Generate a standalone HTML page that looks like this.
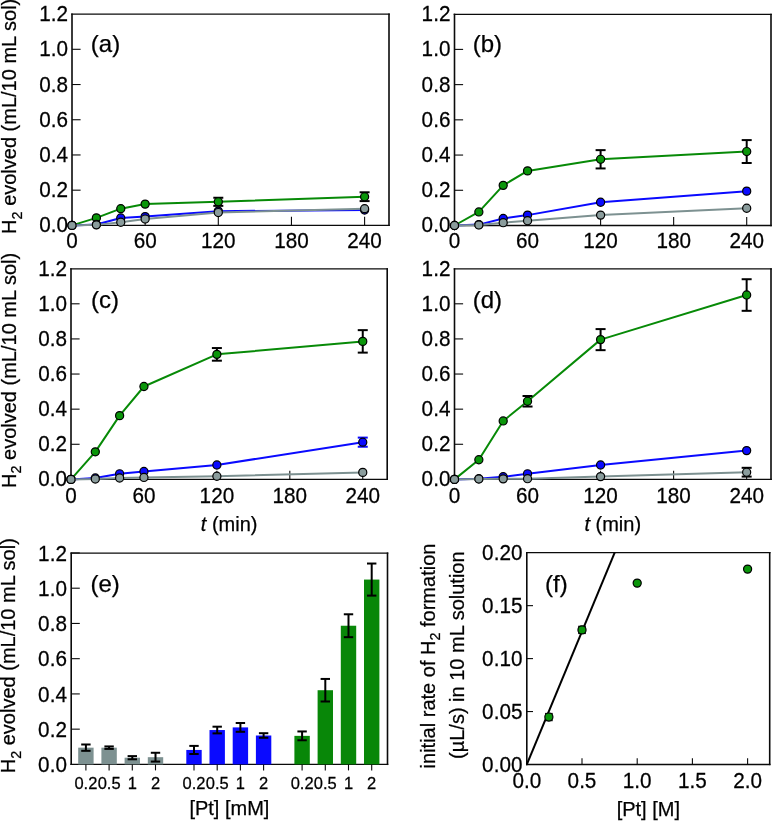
<!DOCTYPE html><html><head><meta charset="utf-8"><style>html,body{margin:0;padding:0;background:#fff;}svg{display:block;will-change:transform;}text{font-family:"Liberation Sans", sans-serif;fill:#000;stroke:#000;stroke-width:0.25px;}</style></head><body>
<svg width="772" height="821" viewBox="0 0 772 821">
<rect width="772" height="821" fill="#fff"/>
<line x1="72" y1="13.45" x2="72" y2="226.05" stroke="#0a0a0a" stroke-width="1.6" />
<line x1="389" y1="13.45" x2="389" y2="226.05" stroke="#0a0a0a" stroke-width="1.6" />
<line x1="71.2" y1="14.1" x2="389.8" y2="14.1" stroke="#0a0a0a" stroke-width="1.3" />
<line x1="71.2" y1="225.4" x2="389.8" y2="225.4" stroke="#0a0a0a" stroke-width="1.3" />
<line x1="72" y1="190.18" x2="80.6" y2="190.18" stroke="#0a0a0a" stroke-width="1.1" />
<line x1="72" y1="154.96" x2="80.6" y2="154.96" stroke="#0a0a0a" stroke-width="1.1" />
<line x1="72" y1="119.74" x2="80.6" y2="119.74" stroke="#0a0a0a" stroke-width="1.1" />
<line x1="72" y1="84.52" x2="80.6" y2="84.52" stroke="#0a0a0a" stroke-width="1.1" />
<line x1="72" y1="49.3" x2="80.6" y2="49.3" stroke="#0a0a0a" stroke-width="1.1" />
<text transform="translate(68.1,232) scale(1,1.04)" font-size="20.7" text-anchor="end" >0.0</text>
<text transform="translate(68.1,197) scale(1,1.04)" font-size="20.7" text-anchor="end" >0.2</text>
<text transform="translate(68.1,162) scale(1,1.04)" font-size="20.7" text-anchor="end" >0.4</text>
<text transform="translate(68.1,127) scale(1,1.04)" font-size="20.7" text-anchor="end" >0.6</text>
<text transform="translate(68.1,92) scale(1,1.04)" font-size="20.7" text-anchor="end" >0.8</text>
<text transform="translate(68.1,56) scale(1,1.04)" font-size="20.7" text-anchor="end" >1.0</text>
<text transform="translate(68.1,21) scale(1,1.04)" font-size="20.7" text-anchor="end" >1.2</text>
<line x1="145.15" y1="225.4" x2="145.15" y2="216.8" stroke="#0a0a0a" stroke-width="1.1" />
<line x1="218.3" y1="225.4" x2="218.3" y2="216.8" stroke="#0a0a0a" stroke-width="1.1" />
<line x1="291.45" y1="225.4" x2="291.45" y2="216.8" stroke="#0a0a0a" stroke-width="1.1" />
<line x1="364.6" y1="225.4" x2="364.6" y2="216.8" stroke="#0a0a0a" stroke-width="1.1" />
<text transform="translate(72,248) scale(1,1.04)" font-size="20.7" text-anchor="middle" >0</text>
<text transform="translate(145.15,248) scale(1,1.04)" font-size="20.7" text-anchor="middle" >60</text>
<text transform="translate(218.3,248) scale(1,1.04)" font-size="20.7" text-anchor="middle" >120</text>
<text transform="translate(291.45,248) scale(1,1.04)" font-size="20.7" text-anchor="middle" >180</text>
<text transform="translate(364.6,248) scale(1,1.04)" font-size="20.7" text-anchor="middle" >240</text>
<text transform="translate(90.8,52.1) scale(1,1)" font-size="24.0" text-anchor="start" >(a)</text>
<polyline points="72,225.4 96.38,217.9 120.77,208.67 145.15,204.09 218.3,201.8 364.6,196.7" fill="none" stroke="#078a07" stroke-width="2" stroke-linejoin="round"/>
<line x1="218.3" y1="197.75" x2="218.3" y2="205.85" stroke="#000" stroke-width="2" />
<line x1="213.3" y1="197.75" x2="223.3" y2="197.75" stroke="#000" stroke-width="2" />
<line x1="213.3" y1="205.85" x2="223.3" y2="205.85" stroke="#000" stroke-width="2" />
<line x1="364.6" y1="192.29" x2="364.6" y2="201.1" stroke="#000" stroke-width="2" />
<line x1="359.6" y1="192.29" x2="369.6" y2="192.29" stroke="#000" stroke-width="2" />
<line x1="359.6" y1="201.1" x2="369.6" y2="201.1" stroke="#000" stroke-width="2" />
<circle cx="72" cy="225.4" r="4.05" fill="#0a960a" stroke="#000" stroke-width="1.2"/>
<circle cx="96.38" cy="217.9" r="4.05" fill="#0a960a" stroke="#000" stroke-width="1.2"/>
<circle cx="120.77" cy="208.67" r="4.05" fill="#0a960a" stroke="#000" stroke-width="1.2"/>
<circle cx="145.15" cy="204.09" r="4.05" fill="#0a960a" stroke="#000" stroke-width="1.2"/>
<circle cx="218.3" cy="201.8" r="4.05" fill="#0a960a" stroke="#000" stroke-width="1.2"/>
<circle cx="364.6" cy="196.7" r="4.05" fill="#0a960a" stroke="#000" stroke-width="1.2"/>
<polyline points="72,225.4 96.38,224.52 120.77,218 145.15,216.59 218.3,211.14 364.6,210.08" fill="none" stroke="#0a0aff" stroke-width="2" stroke-linejoin="round"/>
<circle cx="72" cy="225.4" r="4.05" fill="#0a0aff" stroke="#000" stroke-width="1.2"/>
<circle cx="96.38" cy="224.52" r="4.05" fill="#0a0aff" stroke="#000" stroke-width="1.2"/>
<circle cx="120.77" cy="218" r="4.05" fill="#0a0aff" stroke="#000" stroke-width="1.2"/>
<circle cx="145.15" cy="216.59" r="4.05" fill="#0a0aff" stroke="#000" stroke-width="1.2"/>
<circle cx="218.3" cy="211.14" r="4.05" fill="#0a0aff" stroke="#000" stroke-width="1.2"/>
<circle cx="364.6" cy="210.08" r="4.05" fill="#0a0aff" stroke="#000" stroke-width="1.2"/>
<polyline points="72,225.4 96.38,224.87 120.77,222.23 145.15,219.06 218.3,212.54 364.6,208.67" fill="none" stroke="#7d9191" stroke-width="2" stroke-linejoin="round"/>
<circle cx="72" cy="225.4" r="4.05" fill="#8a9c9c" stroke="#000" stroke-width="1.2"/>
<circle cx="96.38" cy="224.87" r="4.05" fill="#8a9c9c" stroke="#000" stroke-width="1.2"/>
<circle cx="120.77" cy="222.23" r="4.05" fill="#8a9c9c" stroke="#000" stroke-width="1.2"/>
<circle cx="145.15" cy="219.06" r="4.05" fill="#8a9c9c" stroke="#000" stroke-width="1.2"/>
<circle cx="218.3" cy="212.54" r="4.05" fill="#8a9c9c" stroke="#000" stroke-width="1.2"/>
<circle cx="364.6" cy="208.67" r="4.05" fill="#8a9c9c" stroke="#000" stroke-width="1.2"/>
<line x1="454.5" y1="13.65" x2="454.5" y2="226.15" stroke="#0a0a0a" stroke-width="1.6" />
<line x1="771" y1="13.65" x2="771" y2="226.15" stroke="#0a0a0a" stroke-width="1.6" />
<line x1="453.7" y1="14.3" x2="771.8" y2="14.3" stroke="#0a0a0a" stroke-width="1.3" />
<line x1="453.7" y1="225.5" x2="771.8" y2="225.5" stroke="#0a0a0a" stroke-width="1.3" />
<line x1="454.5" y1="190.28" x2="463.1" y2="190.28" stroke="#0a0a0a" stroke-width="1.1" />
<line x1="454.5" y1="155.06" x2="463.1" y2="155.06" stroke="#0a0a0a" stroke-width="1.1" />
<line x1="454.5" y1="119.84" x2="463.1" y2="119.84" stroke="#0a0a0a" stroke-width="1.1" />
<line x1="454.5" y1="84.62" x2="463.1" y2="84.62" stroke="#0a0a0a" stroke-width="1.1" />
<line x1="454.5" y1="49.4" x2="463.1" y2="49.4" stroke="#0a0a0a" stroke-width="1.1" />
<text transform="translate(450.4,232) scale(1,1.04)" font-size="20.7" text-anchor="end" >0.0</text>
<text transform="translate(450.4,197) scale(1,1.04)" font-size="20.7" text-anchor="end" >0.2</text>
<text transform="translate(450.4,162) scale(1,1.04)" font-size="20.7" text-anchor="end" >0.4</text>
<text transform="translate(450.4,127) scale(1,1.04)" font-size="20.7" text-anchor="end" >0.6</text>
<text transform="translate(450.4,92) scale(1,1.04)" font-size="20.7" text-anchor="end" >0.8</text>
<text transform="translate(450.4,56) scale(1,1.04)" font-size="20.7" text-anchor="end" >1.0</text>
<text transform="translate(450.4,21) scale(1,1.04)" font-size="20.7" text-anchor="end" >1.2</text>
<line x1="527.55" y1="225.5" x2="527.55" y2="216.9" stroke="#0a0a0a" stroke-width="1.1" />
<line x1="600.6" y1="225.5" x2="600.6" y2="216.9" stroke="#0a0a0a" stroke-width="1.1" />
<line x1="673.65" y1="225.5" x2="673.65" y2="216.9" stroke="#0a0a0a" stroke-width="1.1" />
<line x1="746.7" y1="225.5" x2="746.7" y2="216.9" stroke="#0a0a0a" stroke-width="1.1" />
<text transform="translate(454.5,248) scale(1,1.04)" font-size="20.7" text-anchor="middle" >0</text>
<text transform="translate(527.55,248) scale(1,1.04)" font-size="20.7" text-anchor="middle" >60</text>
<text transform="translate(600.6,248) scale(1,1.04)" font-size="20.7" text-anchor="middle" >120</text>
<text transform="translate(673.65,248) scale(1,1.04)" font-size="20.7" text-anchor="middle" >180</text>
<text transform="translate(746.7,248) scale(1,1.04)" font-size="20.7" text-anchor="middle" >240</text>
<text transform="translate(472.7,52.3) scale(1,1)" font-size="24.0" text-anchor="start" >(b)</text>
<polyline points="454.5,225.5 478.85,211.94 503.2,185.35 527.55,170.91 600.6,159.29 746.7,151.54" fill="none" stroke="#078a07" stroke-width="2" stroke-linejoin="round"/>
<line x1="600.6" y1="150.13" x2="600.6" y2="168.44" stroke="#000" stroke-width="2" />
<line x1="595.6" y1="150.13" x2="605.6" y2="150.13" stroke="#000" stroke-width="2" />
<line x1="595.6" y1="168.44" x2="605.6" y2="168.44" stroke="#000" stroke-width="2" />
<line x1="746.7" y1="140.09" x2="746.7" y2="162.98" stroke="#000" stroke-width="2" />
<line x1="741.7" y1="140.09" x2="751.7" y2="140.09" stroke="#000" stroke-width="2" />
<line x1="741.7" y1="162.98" x2="751.7" y2="162.98" stroke="#000" stroke-width="2" />
<circle cx="454.5" cy="225.5" r="4.05" fill="#0a960a" stroke="#000" stroke-width="1.2"/>
<circle cx="478.85" cy="211.94" r="4.05" fill="#0a960a" stroke="#000" stroke-width="1.2"/>
<circle cx="503.2" cy="185.35" r="4.05" fill="#0a960a" stroke="#000" stroke-width="1.2"/>
<circle cx="527.55" cy="170.91" r="4.05" fill="#0a960a" stroke="#000" stroke-width="1.2"/>
<circle cx="600.6" cy="159.29" r="4.05" fill="#0a960a" stroke="#000" stroke-width="1.2"/>
<circle cx="746.7" cy="151.54" r="4.05" fill="#0a960a" stroke="#000" stroke-width="1.2"/>
<polyline points="454.5,225.5 478.85,224.62 503.2,218.46 527.55,215.11 600.6,202.25 746.7,191.16" fill="none" stroke="#0a0aff" stroke-width="2" stroke-linejoin="round"/>
<circle cx="454.5" cy="225.5" r="4.05" fill="#0a0aff" stroke="#000" stroke-width="1.2"/>
<circle cx="478.85" cy="224.62" r="4.05" fill="#0a0aff" stroke="#000" stroke-width="1.2"/>
<circle cx="503.2" cy="218.46" r="4.05" fill="#0a0aff" stroke="#000" stroke-width="1.2"/>
<circle cx="527.55" cy="215.11" r="4.05" fill="#0a0aff" stroke="#000" stroke-width="1.2"/>
<circle cx="600.6" cy="202.25" r="4.05" fill="#0a0aff" stroke="#000" stroke-width="1.2"/>
<circle cx="746.7" cy="191.16" r="4.05" fill="#0a0aff" stroke="#000" stroke-width="1.2"/>
<polyline points="454.5,225.5 478.85,224.97 503.2,222.68 527.55,220.75 600.6,215.11 746.7,208.24" fill="none" stroke="#7d9191" stroke-width="2" stroke-linejoin="round"/>
<circle cx="454.5" cy="225.5" r="4.05" fill="#8a9c9c" stroke="#000" stroke-width="1.2"/>
<circle cx="478.85" cy="224.97" r="4.05" fill="#8a9c9c" stroke="#000" stroke-width="1.2"/>
<circle cx="503.2" cy="222.68" r="4.05" fill="#8a9c9c" stroke="#000" stroke-width="1.2"/>
<circle cx="527.55" cy="220.75" r="4.05" fill="#8a9c9c" stroke="#000" stroke-width="1.2"/>
<circle cx="600.6" cy="215.11" r="4.05" fill="#8a9c9c" stroke="#000" stroke-width="1.2"/>
<circle cx="746.7" cy="208.24" r="4.05" fill="#8a9c9c" stroke="#000" stroke-width="1.2"/>
<line x1="71" y1="268.25" x2="71" y2="480.05" stroke="#0a0a0a" stroke-width="1.6" />
<line x1="387.2" y1="268.25" x2="387.2" y2="480.05" stroke="#0a0a0a" stroke-width="1.6" />
<line x1="70.2" y1="268.9" x2="388" y2="268.9" stroke="#0a0a0a" stroke-width="1.3" />
<line x1="70.2" y1="479.4" x2="388" y2="479.4" stroke="#0a0a0a" stroke-width="1.3" />
<line x1="71" y1="444.28" x2="79.6" y2="444.28" stroke="#0a0a0a" stroke-width="1.1" />
<line x1="71" y1="409.16" x2="79.6" y2="409.16" stroke="#0a0a0a" stroke-width="1.1" />
<line x1="71" y1="374.04" x2="79.6" y2="374.04" stroke="#0a0a0a" stroke-width="1.1" />
<line x1="71" y1="338.92" x2="79.6" y2="338.92" stroke="#0a0a0a" stroke-width="1.1" />
<line x1="71" y1="303.8" x2="79.6" y2="303.8" stroke="#0a0a0a" stroke-width="1.1" />
<text transform="translate(67,486) scale(1,1.04)" font-size="20.7" text-anchor="end" >0.0</text>
<text transform="translate(67,451) scale(1,1.04)" font-size="20.7" text-anchor="end" >0.2</text>
<text transform="translate(67,416) scale(1,1.04)" font-size="20.7" text-anchor="end" >0.4</text>
<text transform="translate(67,381) scale(1,1.04)" font-size="20.7" text-anchor="end" >0.6</text>
<text transform="translate(67,346) scale(1,1.04)" font-size="20.7" text-anchor="end" >0.8</text>
<text transform="translate(67,311) scale(1,1.04)" font-size="20.7" text-anchor="end" >1.0</text>
<text transform="translate(67,276) scale(1,1.04)" font-size="20.7" text-anchor="end" >1.2</text>
<line x1="143.94" y1="479.4" x2="143.94" y2="470.8" stroke="#0a0a0a" stroke-width="1.1" />
<line x1="216.88" y1="479.4" x2="216.88" y2="470.8" stroke="#0a0a0a" stroke-width="1.1" />
<line x1="289.81" y1="479.4" x2="289.81" y2="470.8" stroke="#0a0a0a" stroke-width="1.1" />
<line x1="362.75" y1="479.4" x2="362.75" y2="470.8" stroke="#0a0a0a" stroke-width="1.1" />
<text transform="translate(71,503) scale(1,1.04)" font-size="20.7" text-anchor="middle" >0</text>
<text transform="translate(143.94,503) scale(1,1.04)" font-size="20.7" text-anchor="middle" >60</text>
<text transform="translate(216.88,503) scale(1,1.04)" font-size="20.7" text-anchor="middle" >120</text>
<text transform="translate(289.81,503) scale(1,1.04)" font-size="20.7" text-anchor="middle" >180</text>
<text transform="translate(362.75,503) scale(1,1.04)" font-size="20.7" text-anchor="middle" >240</text>
<text transform="translate(90.9,307.9) scale(1,1)" font-size="24.0" text-anchor="start" >(c)</text>
<polyline points="71,479.4 95.31,451.83 119.62,415.66 143.94,386.51 216.88,354.37 362.75,341.38" fill="none" stroke="#078a07" stroke-width="2" stroke-linejoin="round"/>
<line x1="216.88" y1="348.05" x2="216.88" y2="360.69" stroke="#000" stroke-width="2" />
<line x1="211.88" y1="348.05" x2="221.88" y2="348.05" stroke="#000" stroke-width="2" />
<line x1="211.88" y1="360.69" x2="221.88" y2="360.69" stroke="#000" stroke-width="2" />
<line x1="362.75" y1="330.14" x2="362.75" y2="352.62" stroke="#000" stroke-width="2" />
<line x1="357.75" y1="330.14" x2="367.75" y2="330.14" stroke="#000" stroke-width="2" />
<line x1="357.75" y1="352.62" x2="367.75" y2="352.62" stroke="#000" stroke-width="2" />
<circle cx="71" cy="479.4" r="4.05" fill="#0a960a" stroke="#000" stroke-width="1.2"/>
<circle cx="95.31" cy="451.83" r="4.05" fill="#0a960a" stroke="#000" stroke-width="1.2"/>
<circle cx="119.62" cy="415.66" r="4.05" fill="#0a960a" stroke="#000" stroke-width="1.2"/>
<circle cx="143.94" cy="386.51" r="4.05" fill="#0a960a" stroke="#000" stroke-width="1.2"/>
<circle cx="216.88" cy="354.37" r="4.05" fill="#0a960a" stroke="#000" stroke-width="1.2"/>
<circle cx="362.75" cy="341.38" r="4.05" fill="#0a960a" stroke="#000" stroke-width="1.2"/>
<polyline points="71,479.4 95.31,478 119.62,473.78 143.94,471.5 216.88,465 362.75,442.17" fill="none" stroke="#0a0aff" stroke-width="2" stroke-linejoin="round"/>
<line x1="362.75" y1="437.61" x2="362.75" y2="446.74" stroke="#0a0aff" stroke-width="2" />
<line x1="357.75" y1="437.61" x2="367.75" y2="437.61" stroke="#0a0aff" stroke-width="2" />
<line x1="357.75" y1="446.74" x2="367.75" y2="446.74" stroke="#0a0aff" stroke-width="2" />
<circle cx="71" cy="479.4" r="4.05" fill="#0a0aff" stroke="#000" stroke-width="1.2"/>
<circle cx="95.31" cy="478" r="4.05" fill="#0a0aff" stroke="#000" stroke-width="1.2"/>
<circle cx="119.62" cy="473.78" r="4.05" fill="#0a0aff" stroke="#000" stroke-width="1.2"/>
<circle cx="143.94" cy="471.5" r="4.05" fill="#0a0aff" stroke="#000" stroke-width="1.2"/>
<circle cx="216.88" cy="465" r="4.05" fill="#0a0aff" stroke="#000" stroke-width="1.2"/>
<circle cx="362.75" cy="442.17" r="4.05" fill="#0a0aff" stroke="#000" stroke-width="1.2"/>
<polyline points="71,479.4 95.31,479.05 119.62,478 143.94,477.47 216.88,476.24 362.75,472.38" fill="none" stroke="#7d9191" stroke-width="2" stroke-linejoin="round"/>
<circle cx="71" cy="479.4" r="4.05" fill="#8a9c9c" stroke="#000" stroke-width="1.2"/>
<circle cx="95.31" cy="479.05" r="4.05" fill="#8a9c9c" stroke="#000" stroke-width="1.2"/>
<circle cx="119.62" cy="478" r="4.05" fill="#8a9c9c" stroke="#000" stroke-width="1.2"/>
<circle cx="143.94" cy="477.47" r="4.05" fill="#8a9c9c" stroke="#000" stroke-width="1.2"/>
<circle cx="216.88" cy="476.24" r="4.05" fill="#8a9c9c" stroke="#000" stroke-width="1.2"/>
<circle cx="362.75" cy="472.38" r="4.05" fill="#8a9c9c" stroke="#000" stroke-width="1.2"/>
<text transform="translate(229.1,530.8)" font-size="20.0" text-anchor="middle"><tspan font-style="italic">t</tspan> (min)</text>
<line x1="454.5" y1="268.25" x2="454.5" y2="480.05" stroke="#0a0a0a" stroke-width="1.6" />
<line x1="771" y1="268.25" x2="771" y2="480.05" stroke="#0a0a0a" stroke-width="1.6" />
<line x1="453.7" y1="268.9" x2="771.8" y2="268.9" stroke="#0a0a0a" stroke-width="1.3" />
<line x1="453.7" y1="479.4" x2="771.8" y2="479.4" stroke="#0a0a0a" stroke-width="1.3" />
<line x1="454.5" y1="444.28" x2="463.1" y2="444.28" stroke="#0a0a0a" stroke-width="1.1" />
<line x1="454.5" y1="409.16" x2="463.1" y2="409.16" stroke="#0a0a0a" stroke-width="1.1" />
<line x1="454.5" y1="374.04" x2="463.1" y2="374.04" stroke="#0a0a0a" stroke-width="1.1" />
<line x1="454.5" y1="338.92" x2="463.1" y2="338.92" stroke="#0a0a0a" stroke-width="1.1" />
<line x1="454.5" y1="303.8" x2="463.1" y2="303.8" stroke="#0a0a0a" stroke-width="1.1" />
<text transform="translate(450.4,486) scale(1,1.04)" font-size="20.7" text-anchor="end" >0.0</text>
<text transform="translate(450.4,451) scale(1,1.04)" font-size="20.7" text-anchor="end" >0.2</text>
<text transform="translate(450.4,416) scale(1,1.04)" font-size="20.7" text-anchor="end" >0.4</text>
<text transform="translate(450.4,381) scale(1,1.04)" font-size="20.7" text-anchor="end" >0.6</text>
<text transform="translate(450.4,346) scale(1,1.04)" font-size="20.7" text-anchor="end" >0.8</text>
<text transform="translate(450.4,311) scale(1,1.04)" font-size="20.7" text-anchor="end" >1.0</text>
<text transform="translate(450.4,276) scale(1,1.04)" font-size="20.7" text-anchor="end" >1.2</text>
<line x1="527.54" y1="479.4" x2="527.54" y2="470.8" stroke="#0a0a0a" stroke-width="1.1" />
<line x1="600.58" y1="479.4" x2="600.58" y2="470.8" stroke="#0a0a0a" stroke-width="1.1" />
<line x1="673.61" y1="479.4" x2="673.61" y2="470.8" stroke="#0a0a0a" stroke-width="1.1" />
<line x1="746.65" y1="479.4" x2="746.65" y2="470.8" stroke="#0a0a0a" stroke-width="1.1" />
<text transform="translate(454.5,503) scale(1,1.04)" font-size="20.7" text-anchor="middle" >0</text>
<text transform="translate(527.54,503) scale(1,1.04)" font-size="20.7" text-anchor="middle" >60</text>
<text transform="translate(600.58,503) scale(1,1.04)" font-size="20.7" text-anchor="middle" >120</text>
<text transform="translate(673.61,503) scale(1,1.04)" font-size="20.7" text-anchor="middle" >180</text>
<text transform="translate(746.65,503) scale(1,1.04)" font-size="20.7" text-anchor="middle" >240</text>
<text transform="translate(472.7,307.9) scale(1,1)" font-size="24.0" text-anchor="start" >(d)</text>
<polyline points="454.5,479.4 478.85,459.73 503.19,420.93 527.54,401.26 600.58,339.62 746.65,295.02" fill="none" stroke="#078a07" stroke-width="2" stroke-linejoin="round"/>
<line x1="527.54" y1="395.99" x2="527.54" y2="406.53" stroke="#000" stroke-width="2" />
<line x1="522.54" y1="395.99" x2="532.54" y2="395.99" stroke="#000" stroke-width="2" />
<line x1="522.54" y1="406.53" x2="532.54" y2="406.53" stroke="#000" stroke-width="2" />
<line x1="600.58" y1="329.09" x2="600.58" y2="350.16" stroke="#000" stroke-width="2" />
<line x1="595.58" y1="329.09" x2="605.58" y2="329.09" stroke="#000" stroke-width="2" />
<line x1="595.58" y1="350.16" x2="605.58" y2="350.16" stroke="#000" stroke-width="2" />
<line x1="746.65" y1="279.22" x2="746.65" y2="310.82" stroke="#000" stroke-width="2" />
<line x1="741.65" y1="279.22" x2="751.65" y2="279.22" stroke="#000" stroke-width="2" />
<line x1="741.65" y1="310.82" x2="751.65" y2="310.82" stroke="#000" stroke-width="2" />
<circle cx="454.5" cy="479.4" r="4.05" fill="#0a960a" stroke="#000" stroke-width="1.2"/>
<circle cx="478.85" cy="459.73" r="4.05" fill="#0a960a" stroke="#000" stroke-width="1.2"/>
<circle cx="503.19" cy="420.93" r="4.05" fill="#0a960a" stroke="#000" stroke-width="1.2"/>
<circle cx="527.54" cy="401.26" r="4.05" fill="#0a960a" stroke="#000" stroke-width="1.2"/>
<circle cx="600.58" cy="339.62" r="4.05" fill="#0a960a" stroke="#000" stroke-width="1.2"/>
<circle cx="746.65" cy="295.02" r="4.05" fill="#0a960a" stroke="#000" stroke-width="1.2"/>
<polyline points="454.5,479.4 478.85,478.7 503.19,476.77 527.54,473.78 600.58,465 746.65,450.6" fill="none" stroke="#0a0aff" stroke-width="2" stroke-linejoin="round"/>
<circle cx="454.5" cy="479.4" r="4.05" fill="#0a0aff" stroke="#000" stroke-width="1.2"/>
<circle cx="478.85" cy="478.7" r="4.05" fill="#0a0aff" stroke="#000" stroke-width="1.2"/>
<circle cx="503.19" cy="476.77" r="4.05" fill="#0a0aff" stroke="#000" stroke-width="1.2"/>
<circle cx="527.54" cy="473.78" r="4.05" fill="#0a0aff" stroke="#000" stroke-width="1.2"/>
<circle cx="600.58" cy="465" r="4.05" fill="#0a0aff" stroke="#000" stroke-width="1.2"/>
<circle cx="746.65" cy="450.6" r="4.05" fill="#0a0aff" stroke="#000" stroke-width="1.2"/>
<polyline points="454.5,479.4 478.85,479.05 503.19,478.87 527.54,478.7 600.58,476.59 746.65,472.2" fill="none" stroke="#7d9191" stroke-width="2" stroke-linejoin="round"/>
<line x1="746.65" y1="467.81" x2="746.65" y2="476.59" stroke="#000" stroke-width="2" />
<line x1="741.65" y1="467.81" x2="751.65" y2="467.81" stroke="#000" stroke-width="2" />
<line x1="741.65" y1="476.59" x2="751.65" y2="476.59" stroke="#000" stroke-width="2" />
<circle cx="454.5" cy="479.4" r="4.05" fill="#8a9c9c" stroke="#000" stroke-width="1.2"/>
<circle cx="478.85" cy="479.05" r="4.05" fill="#8a9c9c" stroke="#000" stroke-width="1.2"/>
<circle cx="503.19" cy="478.87" r="4.05" fill="#8a9c9c" stroke="#000" stroke-width="1.2"/>
<circle cx="527.54" cy="478.7" r="4.05" fill="#8a9c9c" stroke="#000" stroke-width="1.2"/>
<circle cx="600.58" cy="476.59" r="4.05" fill="#8a9c9c" stroke="#000" stroke-width="1.2"/>
<circle cx="746.65" cy="472.2" r="4.05" fill="#8a9c9c" stroke="#000" stroke-width="1.2"/>
<text transform="translate(612.75,530.8)" font-size="20.0" text-anchor="middle"><tspan font-style="italic">t</tspan> (min)</text>
<text transform="translate(16,233.9) rotate(-90)" font-size="20.0">H<tspan font-size="14.4" dy="5.6">2</tspan><tspan dy="-5.6"> evolved (mL/10 mL sol)</tspan></text>
<text transform="translate(15.7,488) rotate(-90)" font-size="20.0">H<tspan font-size="14.4" dy="5.6">2</tspan><tspan dy="-5.6"> evolved (mL/10 mL sol)</tspan></text>
<text transform="translate(15,773.3) rotate(-90)" font-size="20.0">H<tspan font-size="14.4" dy="5.6">2</tspan><tspan dy="-5.6"> evolved (mL/10 mL sol)</tspan></text>
<line x1="71.2" y1="552.45" x2="71.2" y2="765.05" stroke="#0a0a0a" stroke-width="1.6" />
<line x1="387.5" y1="552.45" x2="387.5" y2="765.05" stroke="#0a0a0a" stroke-width="1.6" />
<line x1="70.4" y1="553.1" x2="388.3" y2="553.1" stroke="#0a0a0a" stroke-width="1.3" />
<line x1="70.4" y1="764.4" x2="388.3" y2="764.4" stroke="#0a0a0a" stroke-width="1.3" />
<line x1="71.2" y1="729.16" x2="79.8" y2="729.16" stroke="#0a0a0a" stroke-width="1.1" />
<line x1="71.2" y1="693.92" x2="79.8" y2="693.92" stroke="#0a0a0a" stroke-width="1.1" />
<line x1="71.2" y1="658.68" x2="79.8" y2="658.68" stroke="#0a0a0a" stroke-width="1.1" />
<line x1="71.2" y1="623.44" x2="79.8" y2="623.44" stroke="#0a0a0a" stroke-width="1.1" />
<line x1="71.2" y1="588.2" x2="79.8" y2="588.2" stroke="#0a0a0a" stroke-width="1.1" />
<line x1="71.2" y1="552.96" x2="79.8" y2="552.96" stroke="#0a0a0a" stroke-width="1.1" />
<text transform="translate(66.9,772) scale(1,1.04)" font-size="20.7" text-anchor="end" >0.0</text>
<text transform="translate(66.9,737) scale(1,1.04)" font-size="20.7" text-anchor="end" >0.2</text>
<text transform="translate(66.9,702) scale(1,1.04)" font-size="20.7" text-anchor="end" >0.4</text>
<text transform="translate(66.9,666) scale(1,1.04)" font-size="20.7" text-anchor="end" >0.6</text>
<text transform="translate(66.9,631) scale(1,1.04)" font-size="20.7" text-anchor="end" >0.8</text>
<text transform="translate(66.9,596) scale(1,1.04)" font-size="20.7" text-anchor="end" >1.0</text>
<text transform="translate(66.9,561) scale(1,1.04)" font-size="20.7" text-anchor="end" >1.2</text>
<rect x="78.2" y="747.66" width="15.4" height="16.74" fill="#7d9191"/>
<line x1="85.9" y1="744.49" x2="85.9" y2="750.83" stroke="#000" stroke-width="2" />
<line x1="81.2" y1="744.49" x2="90.6" y2="744.49" stroke="#000" stroke-width="2" />
<line x1="81.2" y1="750.83" x2="90.6" y2="750.83" stroke="#000" stroke-width="2" />
<line x1="85.9" y1="764.4" x2="85.9" y2="770.4" stroke="#0a0a0a" stroke-width="1.1" />
<text transform="translate(85.9,789) scale(1,1.04)" font-size="16.5" text-anchor="middle" >0.2</text>
<rect x="101.4" y="747.66" width="15.4" height="16.74" fill="#7d9191"/>
<line x1="109.1" y1="746.43" x2="109.1" y2="748.89" stroke="#000" stroke-width="2" />
<line x1="104.4" y1="746.43" x2="113.8" y2="746.43" stroke="#000" stroke-width="2" />
<line x1="104.4" y1="748.89" x2="113.8" y2="748.89" stroke="#000" stroke-width="2" />
<line x1="109.1" y1="764.4" x2="109.1" y2="770.4" stroke="#0a0a0a" stroke-width="1.1" />
<text transform="translate(109.1,789) scale(1,1.04)" font-size="16.5" text-anchor="middle" >0.5</text>
<rect x="124.6" y="757.7" width="15.4" height="6.7" fill="#7d9191"/>
<line x1="132.3" y1="756.12" x2="132.3" y2="759.29" stroke="#000" stroke-width="2" />
<line x1="127.6" y1="756.12" x2="137" y2="756.12" stroke="#000" stroke-width="2" />
<line x1="127.6" y1="759.29" x2="137" y2="759.29" stroke="#000" stroke-width="2" />
<line x1="132.3" y1="764.4" x2="132.3" y2="770.4" stroke="#0a0a0a" stroke-width="1.1" />
<text transform="translate(132.3,789) scale(1,1.04)" font-size="16.5" text-anchor="middle" >1</text>
<rect x="147.8" y="757.18" width="15.4" height="7.22" fill="#7d9191"/>
<line x1="155.5" y1="752.77" x2="155.5" y2="761.58" stroke="#000" stroke-width="2" />
<line x1="150.8" y1="752.77" x2="160.2" y2="752.77" stroke="#000" stroke-width="2" />
<line x1="150.8" y1="761.58" x2="160.2" y2="761.58" stroke="#000" stroke-width="2" />
<line x1="155.5" y1="764.4" x2="155.5" y2="770.4" stroke="#0a0a0a" stroke-width="1.1" />
<text transform="translate(155.5,789) scale(1,1.04)" font-size="16.5" text-anchor="middle" >2</text>
<rect x="186.3" y="749.95" width="15.4" height="14.45" fill="#0a0aff"/>
<line x1="194" y1="745.9" x2="194" y2="754" stroke="#000" stroke-width="2" />
<line x1="189.3" y1="745.9" x2="198.7" y2="745.9" stroke="#000" stroke-width="2" />
<line x1="189.3" y1="754" x2="198.7" y2="754" stroke="#000" stroke-width="2" />
<line x1="194" y1="764.4" x2="194" y2="770.4" stroke="#0a0a0a" stroke-width="1.1" />
<text transform="translate(194,789) scale(1,1.04)" font-size="16.5" text-anchor="middle" >0.2</text>
<rect x="209.5" y="730.04" width="15.4" height="34.36" fill="#0a0aff"/>
<line x1="217.2" y1="726.69" x2="217.2" y2="733.39" stroke="#000" stroke-width="2" />
<line x1="212.5" y1="726.69" x2="221.9" y2="726.69" stroke="#000" stroke-width="2" />
<line x1="212.5" y1="733.39" x2="221.9" y2="733.39" stroke="#000" stroke-width="2" />
<line x1="217.2" y1="764.4" x2="217.2" y2="770.4" stroke="#0a0a0a" stroke-width="1.1" />
<text transform="translate(217.2,789) scale(1,1.04)" font-size="16.5" text-anchor="middle" >0.5</text>
<rect x="232.7" y="727.4" width="15.4" height="37" fill="#0a0aff"/>
<line x1="240.4" y1="722.99" x2="240.4" y2="731.8" stroke="#000" stroke-width="2" />
<line x1="235.7" y1="722.99" x2="245.1" y2="722.99" stroke="#000" stroke-width="2" />
<line x1="235.7" y1="731.8" x2="245.1" y2="731.8" stroke="#000" stroke-width="2" />
<line x1="240.4" y1="764.4" x2="240.4" y2="770.4" stroke="#0a0a0a" stroke-width="1.1" />
<text transform="translate(240.4,789) scale(1,1.04)" font-size="16.5" text-anchor="middle" >1</text>
<rect x="255.9" y="735.5" width="15.4" height="28.9" fill="#0a0aff"/>
<line x1="263.6" y1="733.21" x2="263.6" y2="737.79" stroke="#000" stroke-width="2" />
<line x1="258.9" y1="733.21" x2="268.3" y2="733.21" stroke="#000" stroke-width="2" />
<line x1="258.9" y1="737.79" x2="268.3" y2="737.79" stroke="#000" stroke-width="2" />
<line x1="263.6" y1="764.4" x2="263.6" y2="770.4" stroke="#0a0a0a" stroke-width="1.1" />
<text transform="translate(263.6,789) scale(1,1.04)" font-size="16.5" text-anchor="middle" >2</text>
<rect x="294.4" y="735.86" width="15.4" height="28.54" fill="#088708"/>
<line x1="302.1" y1="731.45" x2="302.1" y2="740.26" stroke="#000" stroke-width="2" />
<line x1="297.4" y1="731.45" x2="306.8" y2="731.45" stroke="#000" stroke-width="2" />
<line x1="297.4" y1="740.26" x2="306.8" y2="740.26" stroke="#000" stroke-width="2" />
<line x1="302.1" y1="764.4" x2="302.1" y2="770.4" stroke="#0a0a0a" stroke-width="1.1" />
<text transform="translate(302.1,789) scale(1,1.04)" font-size="16.5" text-anchor="middle" >0.2</text>
<rect x="317.6" y="690.22" width="15.4" height="74.18" fill="#088708"/>
<line x1="325.3" y1="678.94" x2="325.3" y2="701.5" stroke="#000" stroke-width="2" />
<line x1="320.6" y1="678.94" x2="330" y2="678.94" stroke="#000" stroke-width="2" />
<line x1="320.6" y1="701.5" x2="330" y2="701.5" stroke="#000" stroke-width="2" />
<line x1="325.3" y1="764.4" x2="325.3" y2="770.4" stroke="#0a0a0a" stroke-width="1.1" />
<text transform="translate(325.3,789) scale(1,1.04)" font-size="16.5" text-anchor="middle" >0.5</text>
<rect x="340.8" y="625.73" width="15.4" height="138.67" fill="#088708"/>
<line x1="348.5" y1="614.28" x2="348.5" y2="637.18" stroke="#000" stroke-width="2" />
<line x1="343.8" y1="614.28" x2="353.2" y2="614.28" stroke="#000" stroke-width="2" />
<line x1="343.8" y1="637.18" x2="353.2" y2="637.18" stroke="#000" stroke-width="2" />
<line x1="348.5" y1="764.4" x2="348.5" y2="770.4" stroke="#0a0a0a" stroke-width="1.1" />
<text transform="translate(348.5,789) scale(1,1.04)" font-size="16.5" text-anchor="middle" >1</text>
<rect x="364" y="579.57" width="15.4" height="184.83" fill="#088708"/>
<line x1="371.7" y1="563.53" x2="371.7" y2="595.6" stroke="#000" stroke-width="2" />
<line x1="367" y1="563.53" x2="376.4" y2="563.53" stroke="#000" stroke-width="2" />
<line x1="367" y1="595.6" x2="376.4" y2="595.6" stroke="#000" stroke-width="2" />
<line x1="371.7" y1="764.4" x2="371.7" y2="770.4" stroke="#0a0a0a" stroke-width="1.1" />
<text transform="translate(371.7,789) scale(1,1.04)" font-size="16.5" text-anchor="middle" >2</text>
<text transform="translate(229.4,814.6) scale(1,1)" font-size="20.0" text-anchor="middle" >[Pt] [mM]</text>
<text transform="translate(90.5,591.5) scale(1,1)" font-size="24.0" text-anchor="start" >(e)</text>
<line x1="526.8" y1="552.05" x2="526.8" y2="765.15" stroke="#0a0a0a" stroke-width="1.6" />
<line x1="769.7" y1="552.05" x2="769.7" y2="765.15" stroke="#0a0a0a" stroke-width="1.6" />
<line x1="526" y1="552.7" x2="770.5" y2="552.7" stroke="#0a0a0a" stroke-width="1.3" />
<line x1="526" y1="764.5" x2="770.5" y2="764.5" stroke="#0a0a0a" stroke-width="1.3" />
<line x1="526.8" y1="711.55" x2="533" y2="711.55" stroke="#0a0a0a" stroke-width="1.1" />
<line x1="526.8" y1="658.6" x2="533" y2="658.6" stroke="#0a0a0a" stroke-width="1.1" />
<line x1="526.8" y1="605.65" x2="533" y2="605.65" stroke="#0a0a0a" stroke-width="1.1" />
<text transform="translate(522.4,772) scale(1,1.04)" font-size="20.7" text-anchor="end" >0.00</text>
<text transform="translate(522.4,719) scale(1,1.04)" font-size="20.7" text-anchor="end" >0.05</text>
<text transform="translate(522.4,666) scale(1,1.04)" font-size="20.7" text-anchor="end" >0.10</text>
<text transform="translate(522.4,613) scale(1,1.04)" font-size="20.7" text-anchor="end" >0.15</text>
<text transform="translate(522.4,560) scale(1,1.04)" font-size="20.7" text-anchor="end" >0.20</text>
<line x1="582" y1="764.5" x2="582" y2="758.3" stroke="#0a0a0a" stroke-width="1.1" />
<line x1="637.2" y1="764.5" x2="637.2" y2="758.3" stroke="#0a0a0a" stroke-width="1.1" />
<line x1="692.4" y1="764.5" x2="692.4" y2="758.3" stroke="#0a0a0a" stroke-width="1.1" />
<line x1="747.6" y1="764.5" x2="747.6" y2="758.3" stroke="#0a0a0a" stroke-width="1.1" />
<text transform="translate(526.8,788) scale(1,1.04)" font-size="20.7" text-anchor="middle" >0.0</text>
<text transform="translate(582,788) scale(1,1.04)" font-size="20.7" text-anchor="middle" >0.5</text>
<text transform="translate(637.2,788) scale(1,1.04)" font-size="20.7" text-anchor="middle" >1.0</text>
<text transform="translate(692.4,788) scale(1,1.04)" font-size="20.7" text-anchor="middle" >1.5</text>
<text transform="translate(747.6,788) scale(1,1.04)" font-size="20.7" text-anchor="middle" >2.0</text>
<line x1="526.8" y1="764.5" x2="614.68" y2="552.7" stroke="#000" stroke-width="2"/>
<line x1="545.08" y1="713.88" x2="552.68" y2="713.88" stroke="#000" stroke-width="2" />
<line x1="545.08" y1="720.23" x2="552.68" y2="720.23" stroke="#000" stroke-width="2" />
<circle cx="548.88" cy="717.06" r="4.05" fill="#0a960a" stroke="#000" stroke-width="1.2"/>
<line x1="578.2" y1="626.72" x2="585.8" y2="626.72" stroke="#000" stroke-width="2" />
<line x1="578.2" y1="633.08" x2="585.8" y2="633.08" stroke="#000" stroke-width="2" />
<circle cx="582" cy="629.9" r="4.05" fill="#0a960a" stroke="#000" stroke-width="1.2"/>
<circle cx="637.2" cy="583.09" r="4.05" fill="#0a960a" stroke="#000" stroke-width="1.2"/>
<circle cx="747.6" cy="569.11" r="4.05" fill="#0a960a" stroke="#000" stroke-width="1.2"/>
<text transform="translate(648.3,816.2) scale(1,1)" font-size="20.0" text-anchor="middle" >[Pt] [M]</text>
<text transform="translate(545,592.3) scale(1,1)" font-size="24.0" text-anchor="start" >(f)</text>
<text transform="translate(434.8,656) rotate(-90)" font-size="20.0" text-anchor="middle">initial rate of H<tspan font-size="14.4" dy="5.6">2</tspan><tspan dy="-5.6"> formation</tspan></text>
<text transform="translate(463.6,655.2) rotate(-90)" font-size="20.0" text-anchor="middle">(µL/s) in 10 mL solution</text>
</svg></body></html>
